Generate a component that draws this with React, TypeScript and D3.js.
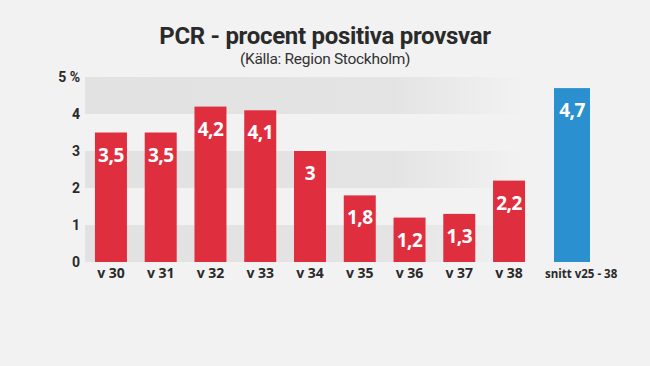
import { useEffect, useRef } from "react";
import * as d3 from "d3";

const weeks = ["v 30", "v 31", "v 32", "v 33", "v 34", "v 35", "v 36", "v 37", "v 38"];
const weekValues = [3.5, 3.5, 4.2, 4.1, 3, 1.8, 1.2, 1.3, 2.2];
const avgLabel = "snitt v25 - 38";
const avgValue = 4.7;
const yTicks = [0, 1, 2, 3, 4, 5];

const fmt = (v: number) => String(v).replace(".", ",");

const App = () => {
  const svgRef = useRef<SVGSVGElement | null>(null);

  useEffect(() => {
    const width = 650;
    const height = 366;
    const font = "Roboto, 'Noto Sans', sans-serif";
    const wide = "'Open Sans', 'Noto Sans', sans-serif";

    const svg = d3.select(svgRef.current).attr("width", width).attr("height", height);
    svg.selectAll("*").remove();

    svg.append("rect").attr("width", width).attr("height", height).attr("fill", "#f2f2f2");

    // fade for the background stripes
    const grad = svg
      .append("defs")
      .append("linearGradient")
      .attr("id", "stripeFade")
      .attr("gradientUnits", "userSpaceOnUse")
      .attr("x1", 85)
      .attr("x2", 525);
    grad.append("stop").attr("offset", "0%").attr("stop-color", "#e2e2e2").attr("stop-opacity", 1);
    grad.append("stop").attr("offset", "70%").attr("stop-color", "#e2e2e2").attr("stop-opacity", 0.9);
    grad.append("stop").attr("offset", "100%").attr("stop-color", "#e2e2e2").attr("stop-opacity", 0);

    const y = d3.scaleLinear().domain([0, 5]).range([262, 77]);

    const x = d3.scaleBand<string>().domain(weeks).range([85, 535]).paddingInner(0.357).paddingOuter(0.2);
    const xAvg = d3.scaleBand<string>().domain([avgLabel]).range([548, 596]).paddingOuter(0.167);

    // stripes: 0-1, 2-3, 4-5 darker
    [0, 2, 4].forEach((v) => {
      svg
        .append("rect")
        .attr("x", 85)
        .attr("width", 440)
        .attr("y", y(v + 1))
        .attr("height", y(v) - y(v + 1))
        .attr("fill", "url(#stripeFade)");
    });

    // title
    svg
      .append("text")
      .attr("x", 325)
      .attr("y", 44)
      .attr("text-anchor", "middle")
      .attr("font-family", font)
      .attr("font-weight", 700)
      .attr("font-size", 24)
      .attr("letter-spacing", -0.3)
      .attr("fill", "#2a2a2a")
      .text("PCR - procent positiva provsvar");

    svg
      .append("text")
      .attr("x", 325)
      .attr("y", 64)
      .attr("text-anchor", "middle")
      .attr("font-family", font)
      .attr("font-size", 15.5)
      .attr("letter-spacing", -0.3)
      .attr("fill", "#333")
      .text("(Källa: Region Stockholm)");

    // y ticks
    svg
      .append("g")
      .selectAll("text")
      .data(yTicks)
      .enter()
      .append("text")
      .attr("x", 80)
      .attr("y", (d) => y(d))
      .attr("dy", "0.36em")
      .attr("text-anchor", "end")
      .attr("font-family", font)
      .attr("font-weight", 700)
      .attr("font-size", 14)
      .attr("fill", "#2a2a2a")
      .text((d) => (d === 5 ? "5 %" : String(d)));

    const data = weeks.map((w, i) => ({ label: w, value: weekValues[i] }));

    // week bars
    const bars = svg.append("g");
    bars
      .selectAll("rect")
      .data(data)
      .enter()
      .append("rect")
      .attr("x", (d) => x(d.label)!)
      .attr("width", x.bandwidth())
      .attr("y", (d) => y(d.value))
      .attr("height", (d) => y(0) - y(d.value))
      .attr("fill", "#df2f3f");

    bars
      .selectAll("text.val")
      .data(data)
      .enter()
      .append("text")
      .attr("class", "val")
      .attr("x", (d) => x(d.label)! + x.bandwidth() / 2)
      .attr("y", (d) => y(d.value) + 29)
      .attr("text-anchor", "middle")
      .attr("font-family", wide)
      .attr("font-weight", 700)
      .attr("font-size", 19)
      .attr("letter-spacing", -0.5)
      .attr("fill", "#fff")
      .text((d) => fmt(d.value));

    bars
      .selectAll("text.lab")
      .data(data)
      .enter()
      .append("text")
      .attr("class", "lab")
      .attr("x", (d) => x(d.label)! + x.bandwidth() / 2)
      .attr("y", 277.5)
      .attr("text-anchor", "middle")
      .attr("font-family", wide)
      .attr("font-weight", 700)
      .attr("font-size", 14)
      .attr("fill", "#2a2a2a")
      .text((d) => d.label);

    // average bar
    const avg = svg.append("g");
    avg
      .append("rect")
      .attr("x", xAvg(avgLabel)!)
      .attr("width", xAvg.bandwidth())
      .attr("y", y(avgValue))
      .attr("height", y(0) - y(avgValue))
      .attr("fill", "#2b90d0");
    avg
      .append("text")
      .attr("x", xAvg(avgLabel)! + xAvg.bandwidth() / 2)
      .attr("y", y(avgValue) + 29)
      .attr("text-anchor", "middle")
      .attr("font-family", wide)
      .attr("font-weight", 700)
      .attr("font-size", 19)
      .attr("letter-spacing", -0.5)
      .attr("fill", "#fff")
      .text(fmt(avgValue));
    avg
      .append("text")
      .attr("x", xAvg(avgLabel)! - 9)
      .attr("y", 277.5)
      .attr("font-family", wide)
      .attr("font-weight", 700)
      .attr("font-size", 11.5)
      .attr("fill", "#2a2a2a")
      .text(avgLabel);
  }, []);

  return <svg ref={svgRef} style={{ display: "block", position: "absolute", left: 0, top: 0 }}></svg>;
};

export default App;
